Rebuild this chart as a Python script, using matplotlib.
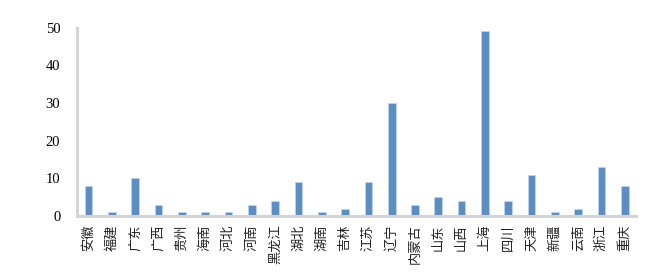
import matplotlib
matplotlib.use("Agg")
import matplotlib.pyplot as plt
import numpy as np

plt.rcParams['font.family'] = ['Noto Sans CJK SC', 'DejaVu Sans']

provinces = ["安徽", "福建", "广东", "广西", "贵州", "海南", "河北", "河南", "黑龙江",
             "湖北", "湖南", "吉林", "江苏", "辽宁", "内蒙古", "山东", "山西", "上海",
             "四川", "天津", "新疆", "云南", "浙江", "重庆"]
counts = [8, 1, 10, 3, 1, 1, 1, 3, 4, 9, 1, 2, 9, 30, 3, 5, 4, 49, 4, 11, 1, 2, 13, 8]
yticks = [0, 10, 20, 30, 40, 50]

fig = plt.figure(figsize=(6.66, 2.77), dpi=100)
ax = fig.add_axes([0.1156, 0.22, 0.84, 0.68])

x = np.arange(len(provinces))
ax.bar(x, counts, width=0.33, color="#5b8ec2", edgecolor="#c9daea", linewidth=0.4)

ax.set_xlim(-0.5, len(provinces) - 0.5)
ax.set_ylim(0, 50)
ax.set_yticks(yticks)
ax.set_yticklabels([str(v) for v in yticks], family="Liberation Serif", fontsize=10.5)
ax.set_xticks(x)
ax.set_xticklabels(provinces, rotation=90, fontsize=9.5, color="#222222")

for side in ("top", "right"):
    ax.spines[side].set_visible(False)
for side in ("left", "bottom"):
    ax.spines[side].set_color("#d4d4d4")
    ax.spines[side].set_linewidth(2.2)
ax.tick_params(axis="both", length=0)
ax.tick_params(axis="y", pad=12)
ax.tick_params(axis="x", pad=6)

fig.savefig("out.png", dpi=100)
